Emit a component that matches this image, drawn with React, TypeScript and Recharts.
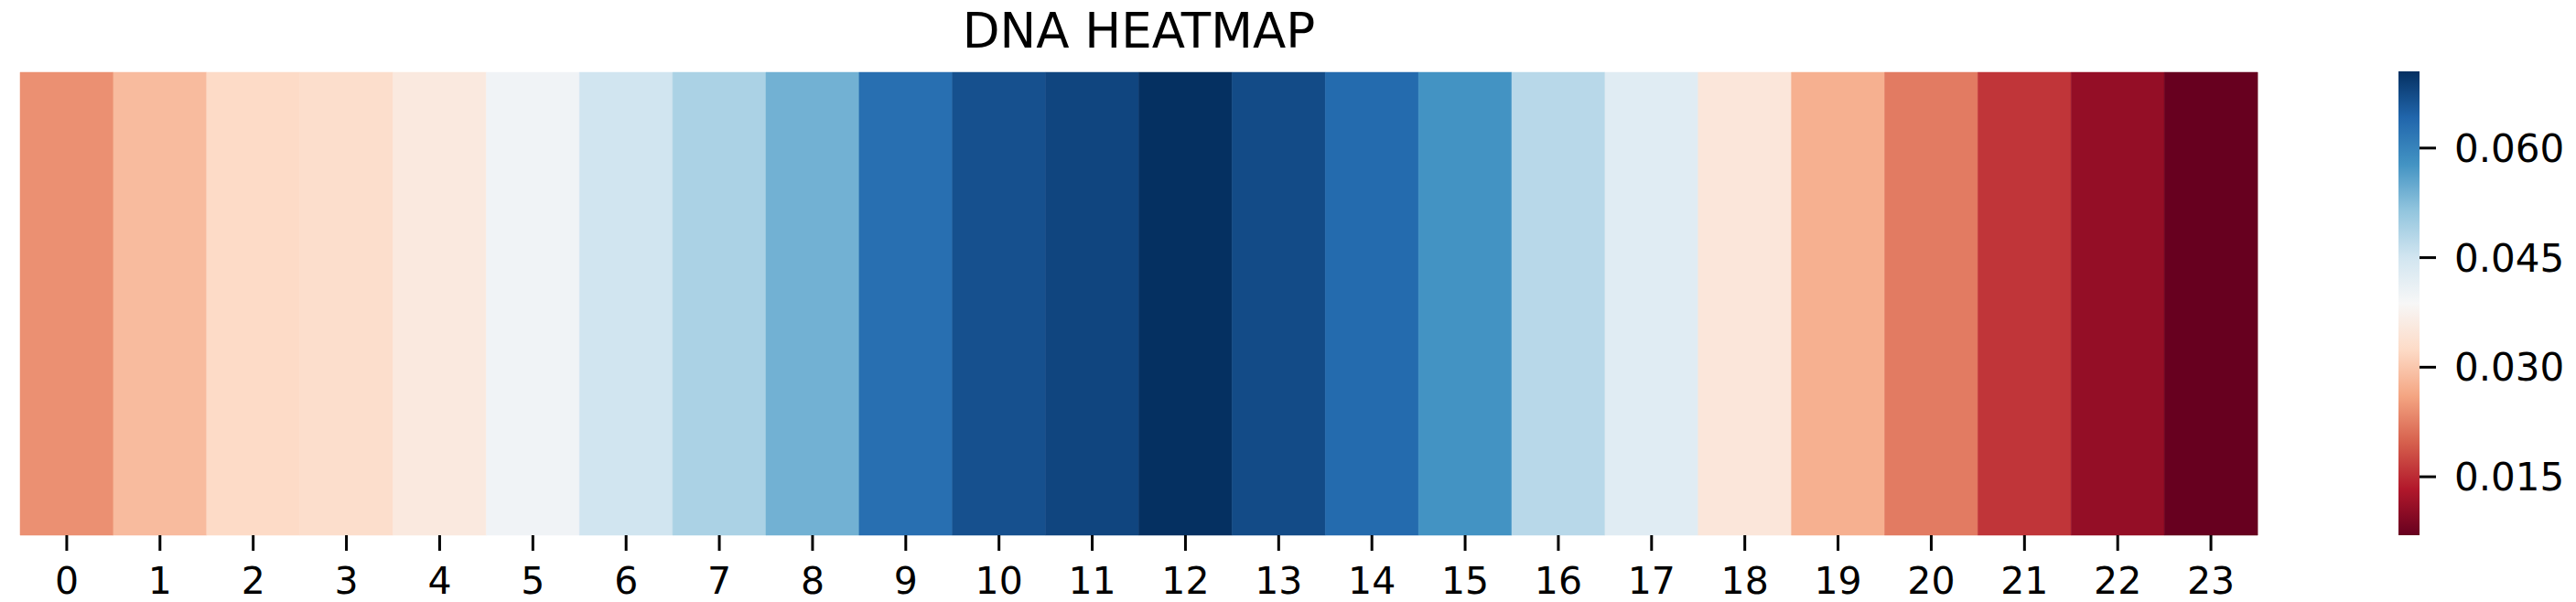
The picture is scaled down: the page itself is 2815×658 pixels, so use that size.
import { Bar, BarChart, Cell, XAxis, YAxis } from 'recharts'

// values, one per position 0..23
const positions = [
  '0', '1', '2', '3', '4', '5', '6', '7', '8', '9', '10', '11',
  '12', '13', '14', '15', '16', '17', '18', '19', '20', '21', '22', '23',
]
const frequencies = [
  0.0241, 0.0286, 0.0324, 0.033, 0.0356, 0.04, 0.0451, 0.0489, 0.054, 0.0629, 0.0667, 0.068,
  0.0705, 0.0673, 0.0635, 0.0578, 0.0476, 0.0426, 0.0349, 0.0273, 0.0222, 0.0159, 0.0108, 0.007,
]
const colorbarTicks = [0.015, 0.03, 0.045, 0.06]
const vMin = 0.007
const vMax = 0.0705

// matplotlib RdBu, low -> high
const rdBu = [
  '#67001f', '#b2182b', '#d6604d', '#f4a582', '#fddbc7', '#f7f7f7',
  '#d1e5f0', '#92c5de', '#4393c3', '#2166ac', '#053061',
]

function hexToRgb(hex: string) {
  const n = parseInt(hex.slice(1), 16)
  return [(n >> 16) & 255, (n >> 8) & 255, n & 255]
}

function colorFor(v: number) {
  const t = Math.min(1, Math.max(0, (v - vMin) / (vMax - vMin)))
  const pos = t * (rdBu.length - 1)
  const i = Math.min(rdBu.length - 2, Math.floor(pos))
  const f = pos - i
  const a = hexToRgb(rdBu[i])
  const b = hexToRgb(rdBu[i + 1])
  const c = a.map((x, k) => Math.round(x + (b[k] - x) * f))
  return `rgb(${c[0]},${c[1]},${c[2]})`
}

const heatData = positions.map((p, i) => ({ pos: p, value: frequencies[i], full: 1 }))
const colorbarData = [{ key: 'cb', range: [vMin, vMax] }]

const font = 'DejaVu Sans, sans-serif'

export default function App() {
  return (
    <div style={{ position: 'absolute', left: 0, top: 0, width: 2815, height: 658, background: '#fff', fontFamily: font }}>
      <div
        style={{
          position: 'absolute',
          left: 22,
          width: 2445,
          top: 7,
          textAlign: 'center',
          fontSize: 53,
          lineHeight: '53px',
          color: '#000',
        }}
      >
        DNA HEATMAP
      </div>

      <div style={{ position: 'absolute', left: 0, top: 0 }}>
        <BarChart
          width={2500}
          height={658}
          data={heatData}
          barCategoryGap={0}
          margin={{ top: 79, left: 22, right: 33, bottom: 13 }}
        >
          <XAxis
            dataKey='pos'
            interval={0}
            height={60}
            axisLine={false}
            tickSize={17}
            tickMargin={18}
            tickLine={{ stroke: '#000', strokeWidth: 3 }}
            tick={{ fill: '#000', fontSize: 41, fontFamily: font }}
          />
          <YAxis hide domain={[0, 1]} />
          <Bar dataKey='full' isAnimationActive={false}>
            {heatData.map((d) => (
              <Cell key={d.pos} fill={colorFor(d.value)} stroke={colorFor(d.value)} strokeWidth={0.5} />
            ))}
          </Bar>
        </BarChart>
      </div>

      <div style={{ position: 'absolute', left: 2500, top: 0 }}>
        <BarChart
          width={315}
          height={658}
          data={colorbarData}
          barCategoryGap={0}
          margin={{ top: 78, left: 121, right: 21, bottom: 73 }}
        >
          <defs>
            <linearGradient id='cbGrad' x1='0' y1='0' x2='0' y2='1'>
              {rdBu
                .slice()
                .reverse()
                .map((c, i) => (
                  <stop key={c} offset={`${(i / (rdBu.length - 1)) * 100}%`} stopColor={c} />
                ))}
            </linearGradient>
          </defs>
          <XAxis dataKey='key' hide />
          <YAxis
            orientation='right'
            width={150}
            domain={[vMin, vMax]}
            ticks={colorbarTicks}
            axisLine={false}
            tickSize={18}
            tickMargin={20}
            tickLine={{ stroke: '#000', strokeWidth: 3 }}
            tick={{ fill: '#000', fontSize: 42, fontFamily: font }}
            tickFormatter={(v: number) => v.toFixed(3)}
          />
          <Bar dataKey='range' fill='url(#cbGrad)' isAnimationActive={false} />
        </BarChart>
      </div>
    </div>
  )
}
